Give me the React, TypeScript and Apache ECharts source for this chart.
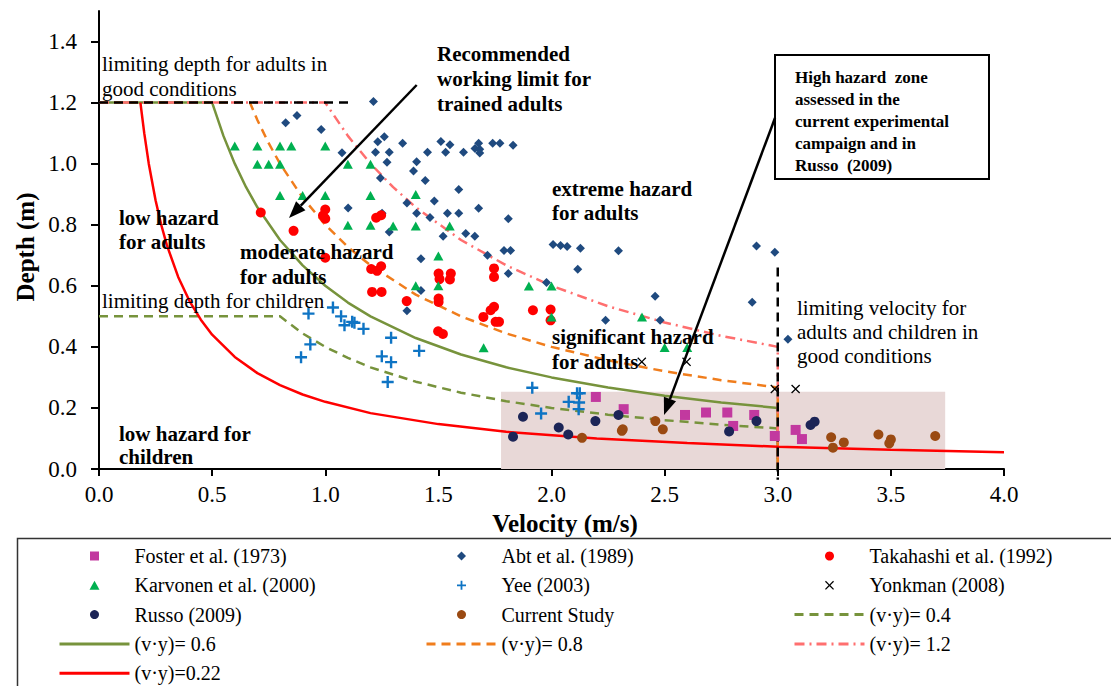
import React, { useEffect, useRef } from "react";
import * as echarts from "echarts";

const FONT = "Liberation Serif";

// ---- scatter data [velocity, depth] ----
const foster = [
  [2.196, 0.236], [2.319, 0.196], [2.59, 0.177], [2.683, 0.185], [2.777, 0.185],
  [2.896, 0.177], [2.803, 0.141], [2.987, 0.108], [3.079, 0.128], [3.107, 0.098],
];
const abt = [
  [0.825, 1.134], [0.875, 1.158], [0.982, 1.112], [1.074, 1.036], [1.101, 0.855],
  [1.213, 1.204], [1.232, 1.072], [1.261, 1.088], [1.342, 1.067], [1.222, 1.037], [1.283, 1.037], [1.273, 1.005], [1.244, 0.953],
  [1.511, 1.073], [1.551, 1.062], [1.452, 1.037], [1.532, 1.037], [1.611, 1.037], [1.404, 1.006], [1.39, 0.976], [1.442, 0.945],
  [1.678, 1.067], [1.662, 1.05], [1.683, 1.047], [1.683, 1.035], [1.74, 1.067], [1.772, 1.067], [1.83, 1.06],
  [1.59, 0.915], [1.482, 0.878], [1.361, 0.871], [1.404, 0.838], [1.463, 0.824], [1.54, 0.838], [1.59, 0.838], [1.678, 0.854], [1.809, 0.82],
  [1.251, 0.838], [1.283, 0.776], [1.521, 0.762], [1.621, 0.771], [1.661, 0.762], [1.717, 0.7], [1.79, 0.716], [1.819, 0.716],
  [2.007, 0.735], [2.04, 0.732], [2.069, 0.729], [2.128, 0.723], [2.296, 0.715], [1.423, 0.689], [2.116, 0.654], [1.809, 0.64],
  [1.423, 0.585], [1.361, 0.518], [1.978, 0.611], [2.458, 0.566], [2.239, 0.487], [2.48, 0.487], [2.887, 0.546],
  [2.906, 0.73], [2.987, 0.71], [3.045, 0.425],
];
const takahashi = [
  [0.715, 0.84], [0.86, 0.78], [1.0, 0.85], [0.99, 0.83], [1.0, 0.82], [1.0, 0.692],
  [1.225, 0.823], [1.247, 0.831], [1.203, 0.655], [1.229, 0.649], [1.247, 0.664],
  [1.207, 0.58], [1.249, 0.58], [1.36, 0.55],
  [1.501, 0.64], [1.505, 0.622], [1.555, 0.64], [1.551, 0.621], [1.501, 0.558], [1.501, 0.547],
  [1.499, 0.451], [1.52, 0.442], [1.746, 0.657], [1.746, 0.629],
  [1.746, 0.531], [1.731, 0.52], [1.699, 0.498], [1.753, 0.482], [1.768, 0.482],
  [1.918, 0.52], [1.996, 0.522], [1.996, 0.487],
];
const karvonen = [
  [0.6, 1.058], [0.7, 1.058], [0.8, 1.058], [0.85, 1.058], [1.0, 1.058],
  [0.7, 0.998], [0.75, 0.998], [0.8, 0.998], [1.1, 0.998], [1.2, 0.998],
  [0.8, 0.896], [0.9, 0.896], [1.0, 0.896], [1.2, 0.896], [1.4, 0.899],
  [1.1, 0.798], [1.2, 0.798], [1.3, 0.796], [1.4, 0.796], [1.55, 0.796],
  [1.5, 0.698], [1.4, 0.6], [1.5, 0.6], [1.7, 0.397],
  [1.9, 0.599], [2.0, 0.599], [2.0, 0.498], [2.4, 0.498], [2.5, 0.398], [2.6, 0.398],
];
const yee = [
  [0.926, 0.509], [1.034, 0.529], [1.07, 0.5], [1.085, 0.471], [1.119, 0.482], [1.129, 0.479], [1.169, 0.459],
  [0.934, 0.408], [0.893, 0.366], [1.291, 0.43], [1.25, 0.369], [1.291, 0.35], [1.276, 0.285], [1.415, 0.387],
  [1.915, 0.266], [1.954, 0.182], [2.076, 0.22], [2.113, 0.248], [2.125, 0.248], [2.122, 0.218], [2.12, 0.196],
];
const yonkman = [[2.399, 0.351], [2.597, 0.351], [2.987, 0.262], [3.079, 0.262]];
const russo = [
  [1.83, 0.106], [1.874, 0.171], [2.032, 0.136], [2.074, 0.113], [2.194, 0.157],
  [2.296, 0.177], [2.785, 0.123], [2.906, 0.157], [3.145, 0.144], [3.163, 0.155],
];
const current = [
  [2.135, 0.102], [2.311, 0.125], [2.315, 0.13], [2.459, 0.157], [2.492, 0.13],
  [3.236, 0.104], [3.244, 0.07], [3.292, 0.087], [3.445, 0.113], [3.5, 0.097], [3.493, 0.084], [3.696, 0.108],
];

// ---- threshold curves (v, depth) ----
const curve04 = [
  [0, 0.5], [0.8, 0.5], [0.9, 0.444], [1.0, 0.4], [1.1, 0.364], [1.2, 0.333], [1.4, 0.286], [1.6, 0.25],
  [1.8, 0.222], [2.0, 0.2], [2.25, 0.178], [2.5, 0.16], [2.75, 0.145], [3.0, 0.133], [3.0, 0],
];
const curve06 = [
  [0, 1.2], [0.5, 1.2], [0.55, 1.091], [0.6, 1.0], [0.65, 0.923], [0.7, 0.857], [0.8, 0.75], [0.9, 0.667],
  [1.0, 0.6], [1.1, 0.545], [1.2, 0.5], [1.4, 0.429], [1.6, 0.375], [1.8, 0.333], [2.0, 0.3], [2.25, 0.267],
  [2.5, 0.24], [2.75, 0.218], [3.0, 0.2], [3.0, 0],
];
const curve08 = [
  [0, 1.2], [0.667, 1.2], [0.7, 1.143], [0.75, 1.067], [0.8, 1.0], [0.9, 0.889], [1.0, 0.8], [1.1, 0.727],
  [1.2, 0.667], [1.4, 0.571], [1.6, 0.5], [1.8, 0.444], [2.0, 0.4], [2.25, 0.356], [2.5, 0.32],
  [2.75, 0.291], [3.0, 0.267], [3.0, 0],
];
const curve12 = [
  [0, 1.2], [1.0, 1.2], [1.1, 1.091], [1.2, 1.0], [1.3, 0.923], [1.4, 0.857], [1.6, 0.75], [1.8, 0.667],
  [2.0, 0.6], [2.25, 0.533], [2.5, 0.48], [2.75, 0.436], [3.0, 0.4], [3.0, 0],
];
const curve022 = [
  [0.183, 1.2], [0.2, 1.1], [0.22, 1.0], [0.25, 0.88], [0.275, 0.8], [0.3, 0.733], [0.35, 0.629],
  [0.4, 0.55], [0.45, 0.489], [0.5, 0.44], [0.6, 0.367], [0.7, 0.314], [0.8, 0.275], [0.9, 0.244],
  [1.0, 0.22], [1.2, 0.183], [1.5, 0.147], [1.8, 0.122], [2.2, 0.1], [2.6, 0.085], [3.0, 0.073],
  [3.5, 0.063], [4.0, 0.055],
];
const adultDepthLimit = [[0, 1.2], [1.11, 1.2]];
const velocityLimit = [[3.0, 0.66], [3.0, -0.035]];
const highHazardZone = { v: [1.777, 3.74], d: [0, 0.253] };

const xTicks = [0, 0.5, 1, 1.5, 2, 2.5, 3, 3.5, 4];
const yTicks = [0, 0.2, 0.4, 0.6, 0.8, 1.0, 1.2, 1.4];

const SQUARE = "path://M0,0H10V10H0Z";
const DIAMOND = "path://M5,0L10,5L5,10L0,5Z";
const TRIANGLE = "path://M5,0L10,9H0Z";
const PLUS = "path://M4,0H6V4H10V6H6V10H4V6H0V4H4Z";
const CROSS = "path://M0,1L1,0L5,4L9,0L10,1L6,5L10,9L9,10L5,6L1,10L0,9L4,5Z";

function arrow(x1: number, y1: number, x2: number, y2: number) {
  const dx = x2 - x1, dy = y2 - y1;
  const len = Math.hypot(dx, dy);
  const ux = dx / len, uy = dy / len;
  const hl = 17, hw = 6.5;
  const bx = x2 - hl * ux, by = y2 - hl * uy;
  const nx = -uy, ny = ux;
  return [
    { type: "line", shape: { x1, y1, x2: bx, y2: by }, style: { stroke: "#000", lineWidth: 2.5 }, z: 100 },
    {
      type: "polygon",
      shape: { points: [[x2, y2], [bx + hw * nx, by + hw * ny], [bx - hw * nx, by - hw * ny]] },
      style: { fill: "#000" },
      z: 100,
    },
  ];
}

function txt(x: number, y: number, text: string, bold: boolean, size: number, lh: number) {
  return {
    type: "text",
    x,
    y,
    z: 50,
    style: {
      text,
      fontFamily: FONT,
      fontSize: size,
      fontWeight: bold ? "bold" : "normal",
      fill: "#000",
      lineHeight: lh,
      align: "left",
      verticalAlign: "top",
    },
  };
}

const lineLegend = (name: string) => ({ name, itemStyle: { opacity: 0 }, lineStyle: { width: 3 } });

export default function App() {
  const ref = useRef<HTMLDivElement>(null);
  useEffect(() => {
    if (!ref.current) return;
    const chart = echarts.init(ref.current, null, { renderer: "svg" });

    const scatter = (name: string, data: number[][], symbol: string, size: number, color: string) => ({
      name,
      type: "scatter",
      data,
      symbol,
      symbolSize: size,
      symbolKeepAspect: true,
      itemStyle: { color, opacity: 1 },
      z: 5,
    });
    const line = (name: string, data: number[][], color: string, width: number, type: any) => ({
      name,
      type: "line",
      data,
      symbol: "none",
      showSymbol: false,
      lineStyle: { color, width, type },
      itemStyle: { color },
      z: 3,
    });

    const legendBase = {
      orient: "vertical",
      top: 546,
      height: 200,
      padding: 0,
      itemWidth: 70,
      itemHeight: 9,
      itemGap: 9.3,
      symbolKeepAspect: true,
      textStyle: { fontFamily: FONT, fontSize: 20, color: "#000", lineHeight: 20 },
      selectedMode: false,
    };

    const option: any = {
      animation: false,
      backgroundColor: "#fff",
      grid: { left: 99, right: 107, top: 11, bottom: 217, containLabel: false, outerBoundsMode: "none" },
      xAxis: {
        type: "value",
        min: 0,
        max: 4,
        interval: 0.5,
        splitLine: { show: false },
        axisLine: { lineStyle: { color: "#000", width: 2 } },
        axisTick: { length: 7, lineStyle: { color: "#000", width: 2 }, customValues: xTicks },
        axisLabel: {
          customValues: xTicks,
          formatter: (v: number) => v.toFixed(1),
          fontFamily: FONT,
          fontSize: 23,
          color: "#000",
          margin: 14,
        },
      },
      yAxis: {
        type: "value",
        min: 0,
        max: 1.5,
        splitLine: { show: false },
        axisLine: { lineStyle: { color: "#000", width: 2 } },
        axisTick: { length: 8, lineStyle: { color: "#000", width: 2 }, customValues: yTicks },
        axisLabel: {
          customValues: yTicks,
          formatter: (v: number) => v.toFixed(1),
          fontFamily: FONT,
          fontSize: 23,
          color: "#000",
          margin: 22,
        },
      },
      legend: [
        {
          ...legendBase,
          left: 58,
          data: [
            "Foster et al. (1973)",
            "Karvonen et al. (2000)",
            "Russo (2009)",
            lineLegend("(v·y)= 0.6"),
            lineLegend("(v·y)=0.22"),
          ],
        },
        {
          ...legendBase,
          left: 425,
          data: ["Abt et al. (1989)", "Yee (2003)", "Current Study", lineLegend("(v·y)= 0.8")],
        },
        {
          ...legendBase,
          left: 793,
          data: ["Takahashi et al. (1992)", "Yonkman (2008)", lineLegend("(v·y)= 0.4"), lineLegend("(v·y)= 1.2")],
        },
      ],
      series: [
        {
          type: "line",
          data: [],
          silent: true,
          markArea: {
            silent: true,
            itemStyle: { color: "#E8D8D7" },
            data: [[{ coord: [highHazardZone.v[0], highHazardZone.d[0]] }, { coord: [highHazardZone.v[1], highHazardZone.d[1]] }]],
          },
          z: 1,
        },
        line("(v·y)= 0.4", curve04, "#77933C", 2.5, [9, 6]),
        line("(v·y)= 0.6", curve06, "#77933C", 2.5, "solid"),
        line("(v·y)= 0.8", curve08, "#F07D1C", 2.5, [9, 6]),
        line("(v·y)= 1.2", curve12, "#FF6F6F", 2.5, [10, 5, 2, 5]),
        line("(v·y)=0.22", curve022, "#FF0000", 2.5, "solid"),
        {
          type: "line",
          data: adultDepthLimit,
          symbol: "none",
          lineStyle: { color: "#000", width: 2.5, type: [9, 6] },
          z: 4,
        },
        {
          type: "line",
          data: velocityLimit,
          symbol: "none",
          clip: false,
          lineStyle: { color: "#000", width: 2.5, type: [9, 6] },
          z: 4,
        },
        scatter("Foster et al. (1973)", foster, SQUARE, 10, "#C2399F"),
        scatter("Abt et al. (1989)", abt, DIAMOND, 9, "#1F4A7F"),
        scatter("Takahashi et al. (1992)", takahashi, "circle", 10, "#FF0000"),
        scatter("Karvonen et al. (2000)", karvonen, TRIANGLE, 10, "#00B050"),
        scatter("Yee (2003)", yee, PLUS, 12, "#0E74C4"),
        scatter("Yonkman (2008)", yonkman, CROSS, 9, "#000"),
        scatter("Russo (2009)", russo, "circle", 10, "#1C2557"),
        scatter("Current Study", current, "circle", 10, "#9A4A12"),
      ],
      graphic: [
        txt(102, 51, "limiting depth for adults in\ngood conditions", false, 21, 25),
        txt(119, 206, "low hazard\nfor adults", true, 21, 24),
        txt(437, 41, "Recommended\nworking limit for\ntrained adults", true, 21, 25),
        txt(240, 239, "moderate hazard\nfor adults", true, 21, 25),
        txt(552, 177, "extreme hazard\nfor adults", true, 21, 24),
        txt(102, 289, "limiting depth for children", false, 21, 24),
        txt(552, 324, "significant hazard\nfor adults", true, 21, 25),
        txt(797, 296, "limiting velocity for\nadults and children in\ngood conditions", false, 21, 24),
        txt(119, 422, "low hazard for\nchildren", true, 21, 23),
        {
          type: "rect",
          shape: { x: 775, y: 55, width: 214, height: 124 },
          style: { fill: "#fff", stroke: "#000", lineWidth: 2 },
          z: 60,
        },
        { ...txt(795, 66, "High hazard  zone\nassessed in the\ncurrent experimental\ncampaign and in\nRusso  (2009)", true, 17, 22), z: 61 },
        ...arrow(416.7, 85, 289, 218),
        ...arrow(775, 118, 664, 415),
        {
          type: "text",
          x: 565,
          y: 523,
          style: {
            text: "Velocity (m/s)",
            fontFamily: FONT,
            fontSize: 25,
            fontWeight: "bold",
            fill: "#000",
            align: "center",
            verticalAlign: "middle",
          },
        },
        {
          type: "text",
          x: 25,
          y: 247,
          rotation: Math.PI / 2,
          style: {
            text: "Depth (m)",
            fontFamily: FONT,
            fontSize: 25,
            fontWeight: "bold",
            fill: "#000",
            align: "center",
            verticalAlign: "middle",
          },
        },
        {
          type: "rect",
          shape: { x: 17.5, y: 538.5, width: 1200, height: 300 },
          style: { fill: "none", stroke: "#333", lineWidth: 1.5 },
          z: 0,
        },
      ],
    };

    chart.setOption(option);
    return () => chart.dispose();
  }, []);

  return (
    <div
      ref={ref}
      style={{ width: 1111, height: 686, position: "absolute", left: 0, top: 0, background: "#fff" }}
    />
  );
}
